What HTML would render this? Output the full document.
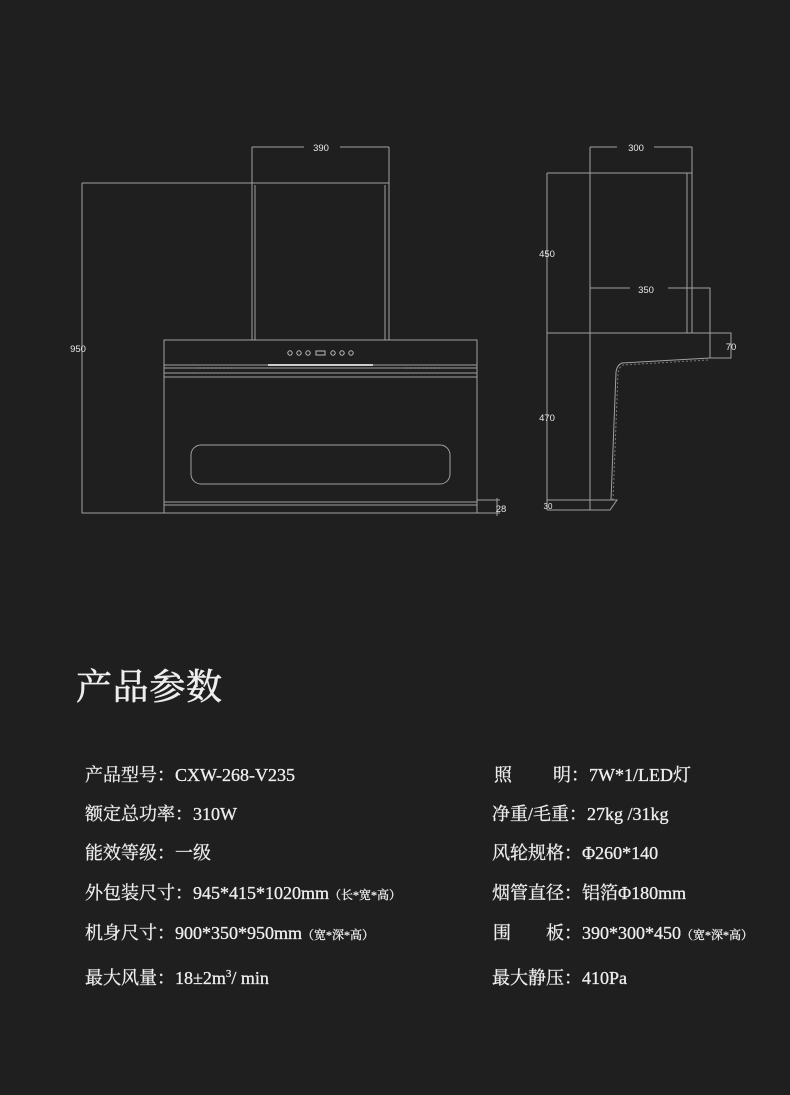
<!DOCTYPE html>
<html><head><meta charset="utf-8"><style>
html,body{margin:0;padding:0;background:#1f1f1f;}
svg{display:block}
.t{font-family:"Liberation Serif","Noto Serif CJK SC",serif;fill:#eeeeee;font-size:18px;stroke:#eeeeee;stroke-width:0.3}
.s{font-size:12px}
.d{font-family:"Liberation Sans",sans-serif;fill:#e8e8e8;font-size:9.5px}
</style></head><body>
<svg width="790" height="1095" viewBox="0 0 790 1095" xmlns="http://www.w3.org/2000/svg">
<rect width="790" height="1095" fill="#1f1f1f"/>
<g fill="none" stroke="#a0a0a0" stroke-width="1">
<path d="M252 147H304M340 147H389M252 147V340M389 147V340"/>
<path d="M82 183H252M82 183V513H164"/>
<rect x="252" y="183" width="137" height="157"/>
<path d="M255 185V340M385 185V340"/>
<rect x="164" y="340" width="313" height="173"/>
<path d="M164 365H477M164 368H477M164 373H477M164 377H477"/>
<path d="M164 502H477M164 505H477"/>
<path d="M477 500H500M477 513H500M497 498V516"/>
<rect x="191" y="445" width="259" height="39" rx="10"/>
<g stroke="#bbb"><circle cx="290" cy="353" r="2.2"/><circle cx="299" cy="353" r="2.2"/><circle cx="308" cy="353" r="2.2"/><rect x="316" y="351" width="9" height="4"/><circle cx="333" cy="353" r="2.2"/><circle cx="342" cy="353" r="2.2"/><circle cx="351" cy="353" r="2.2"/></g>
<path d="M268 365H373" stroke="#ccc" stroke-width="2"/>
<path d="M199 368H235M406 368H442" stroke="#bbb" stroke-dasharray="1.5 2.5"/>
<path d="M590 147H617M654 147H692M692 147V173M590 147V510"/>
<path d="M547 173H692V333M687 173V333"/>
<path d="M547 173V510"/>
<path d="M590 288H630M668 288H710V358"/>
<path d="M547 333H731V358H710"/>
<path d="M710 358L622 363Q617 365 616 372L611 500"/>
<path d="M708 360L623 365Q619 367 618 374L613 500" stroke-dasharray="2 2" stroke="#777"/>
<path d="M547 500H617L610 510H547"/>
</g>
<text class="d" x="321" y="151" text-anchor="middle">390</text>
<text class="d" x="78" y="352" text-anchor="middle">950</text>
<text class="d" x="501" y="512" text-anchor="middle">28</text>
<text class="d" x="636" y="151" text-anchor="middle">300</text>
<text class="d" x="547" y="257" text-anchor="middle">450</text>
<text class="d" x="646" y="293" text-anchor="middle">350</text>
<text class="d" x="731" y="350" text-anchor="middle">70</text>
<text class="d" x="547" y="421" text-anchor="middle">470</text>
<text class="d" x="548" y="509" text-anchor="middle" style="font-size:8px">30</text>

<text class="t" x="76" y="699" style="font-size:36px;stroke-width:0.6" textLength="146">产品参数</text>

<text class="t" x="85" y="781">产品型号：CXW-268-V235</text>
<text class="t" x="85" y="820">额定总功率：310W</text>
<text class="t" x="85" y="859">能效等级：一级</text>
<text class="t" x="85" y="899">外包装尺寸：945*415*1020mm<tspan class="s">（长*宽*高）</tspan></text>
<text class="t" x="85" y="939">机身尺寸：900*350*950mm<tspan class="s">（宽*深*高）</tspan></text>
<text class="t" x="85" y="984">最大风量：18±2m<tspan style="font-size:11px" dy="-7">3</tspan><tspan dy="7">/ min</tspan></text>

<text class="t" x="494" y="781">照</text>
<text class="t" x="553" y="781">明：7W*1/LED灯</text>
<text class="t" x="492" y="820">净重/毛重：27kg /31kg</text>
<text class="t" x="492" y="859">风轮规格：Φ260*140</text>
<text class="t" x="492" y="899">烟管直径：铝箔Φ180mm</text>
<text class="t" x="493" y="939">围</text>
<text class="t" x="546" y="939">板：390*300*450<tspan class="s">（宽*深*高）</tspan></text>
<text class="t" x="492" y="984">最大静压：410Pa</text>
</svg>
</body></html>
